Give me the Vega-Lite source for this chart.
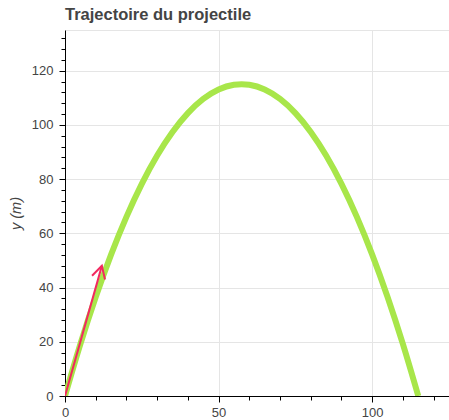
{
  "$schema": "https://vega.github.io/schema/vega-lite/v6.json",
  "autosize": "none",
  "padding": {"left": 65, "top": 30, "right": 0, "bottom": 24},
  "width": 384,
  "height": 366,
  "background": "white",
  "config": {
    "font": "Liberation Sans",
    "view": {"stroke": "#e5e5e5"}
  },
  "title": {
    "text": "Trajectoire du projectile",
    "anchor": "start",
    "frame": "group",
    "font": "Liberation Sans",
    "fontSize": 16.5,
    "fontWeight": "bold",
    "color": "#444444",
    "offset": 7
  },
  "datasets": {
    "trajectory": [
      {"x": 0, "y": 0}, {"x": 5, "y": 19.13}, {"x": 10, "y": 36.52}, {"x": 15, "y": 52.17},
      {"x": 20, "y": 66.09}, {"x": 25, "y": 78.26}, {"x": 30, "y": 88.7}, {"x": 35, "y": 97.39},
      {"x": 40, "y": 104.35}, {"x": 45, "y": 109.57}, {"x": 50, "y": 113.04}, {"x": 55, "y": 114.78},
      {"x": 57.5, "y": 115}, {"x": 60, "y": 114.78}, {"x": 65, "y": 113.04}, {"x": 70, "y": 109.57},
      {"x": 75, "y": 104.35}, {"x": 80, "y": 97.39}, {"x": 85, "y": 88.7}, {"x": 90, "y": 78.26},
      {"x": 95, "y": 66.09}, {"x": 100, "y": 52.17}, {"x": 105, "y": 36.52}, {"x": 110, "y": 19.13},
      {"x": 115, "y": 0}
    ],
    "arrow": [
      {"x": 0, "y": 0}, {"x": 12, "y": 48}
    ],
    "tip": [
      {"x": 12, "y": 48}
    ]
  },
  "encoding": {
    "x": {
      "field": "x",
      "type": "quantitative",
      "scale": {"domain": [0, 125], "nice": false, "zero": false},
      "axis": {
        "title": null,
        "values": [0, 10, 20, 30, 40, 50, 60, 70, 80, 90, 100, 110, 120],
        "labelExpr": "datum.value % 50 === 0 ? datum.label : ''",
        "labelFlush": false,
        "labelOverlap": false,
        "labelFont": "Liberation Sans",
        "labelFontSize": 13,
        "labelColor": "#444444",
        "labelPadding": 4,
        "domainColor": "#000000",
        "tickColor": "#000000",
        "tickSize": {"condition": {"test": "datum.value % 50 === 0", "value": 6}, "value": 4},
        "grid": true,
        "gridColor": "#e5e5e5",
        "gridOpacity": {"condition": {"test": "datum.value % 50 === 0", "value": 1}, "value": 0}
      }
    },
    "y": {
      "field": "y",
      "type": "quantitative",
      "scale": {"domain": [0, 135], "nice": false, "zero": false},
      "axis": {
        "title": "y (m)",
        "titleFont": "Liberation Sans",
        "titleFontSize": 14.5,
        "titleFontStyle": "italic",
        "titleFontWeight": "normal",
        "titleColor": "#444444",
        "titlePadding": 8,
        "values": [0, 4, 8, 12, 16, 20, 24, 28, 32, 36, 40, 44, 48, 52, 56, 60, 64, 68, 72, 76, 80, 84, 88, 92, 96, 100, 104, 108, 112, 116, 120, 124, 128, 132],
        "labelExpr": "datum.value % 20 === 0 ? datum.label : ''",
        "labelFlush": false,
        "labelOverlap": false,
        "labelFont": "Liberation Sans",
        "labelFontSize": 13,
        "labelColor": "#444444",
        "labelPadding": 6,
        "domainColor": "#000000",
        "tickColor": "#000000",
        "tickSize": {"condition": {"test": "datum.value % 20 === 0", "value": 6}, "value": 4},
        "grid": true,
        "gridColor": "#e5e5e5",
        "gridOpacity": {"condition": {"test": "datum.value % 20 === 0", "value": 1}, "value": 0}
      }
    }
  },
  "layer": [
    {
      "data": {"name": "trajectory"},
      "mark": {"type": "line", "color": "#a8e64a", "strokeWidth": 6, "clip": true, "interpolate": "monotone"}
    },
    {
      "data": {"name": "arrow"},
      "mark": {"type": "line", "color": "#f2295f", "strokeWidth": 2, "clip": true}
    },
    {
      "data": {"name": "tip"},
      "mark": {
        "type": "point",
        "shape": "M-0.55,1L0,0L0.55,1",
        "size": 600,
        "angle": 15.8,
        "filled": false,
        "stroke": "#f2295f",
        "strokeWidth": 2,
        "opacity": 1
      }
    }
  ]
}
